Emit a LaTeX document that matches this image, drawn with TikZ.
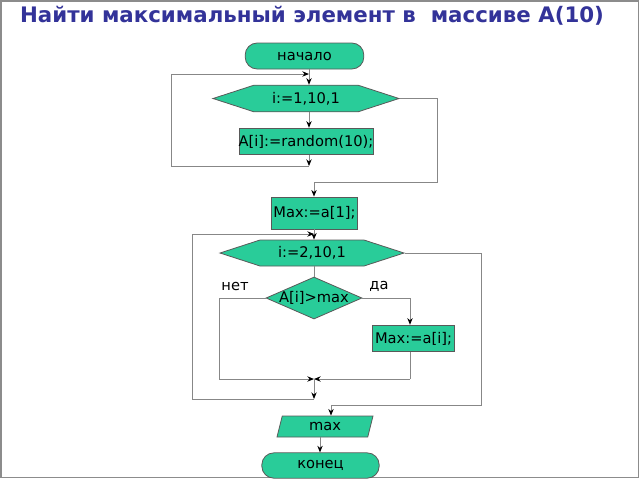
\documentclass[tikz,border=0pt]{standalone}
\usepackage{fontspec}
\setmainfont{DejaVu Sans}
\usetikzlibrary{arrows.meta,shapes.geometric,shapes.symbols}

\definecolor{boxgreen}{RGB}{41,204,153}
\definecolor{titleblue}{RGB}{51,51,153}
\definecolor{wire}{RGB}{135,135,135}

\tikzset{
  every node/.style={font=\fontsize{11}{13}\selectfont},
  shapebase/.style={draw=black!65, fill=boxgreen, inner sep=0pt, line width=0.6pt},
  terminal/.style={shapebase, rectangle, rounded corners=9pt},
  procbox/.style={shapebase, rectangle},
  loopbox/.style={shapebase, signal, signal to=west and east, signal pointer angle=36},
  condbox/.style={shapebase, diamond},
  iobox/.style={shapebase, trapezium, trapezium left angle=58, trapezium right angle=122, trapezium stretches body},
  wireline/.style={draw=wire, line width=0.75pt},
  arr/.style={wireline, -{Stealth[length=5pt,width=4pt,black]}},
}

\begin{document}
\begin{tikzpicture}[x=0.75pt,y=0.75pt,yscale=-1,xscale=1]
\useasboundingbox (0,0) rectangle (640,480);
% frame
\draw [draw=black!45, line width=0.9pt] (1,1) rectangle (638.5,477.5);

% Text Node: title
\node [text=titleblue, font=\fontsize{16}{19}\selectfont\bfseries] (title) at (312,16) {Найти максимальный элемент в \ массиве А(10)};

% first loop
\node [terminal, minimum width=89pt, minimum height=19.5pt] (start) at (304.5,56) {начало};
\node [loopbox, minimum width=139.5pt, minimum height=20pt] (loopA) at (306,98.5) {i:=1,10,1};
\node [procbox, minimum width=100.5pt, minimum height=20pt] (fillA) at (306,141.5) {\makebox[0pt]{A[i]:=random(10);}};

\coordinate (colA) at (309,0);
\coordinate (retA) at (309,166);
\draw [arr] (start.south -| colA) -- (loopA.north -| colA);
\draw [arr] (loopA.south -| colA) -- (fillA.north -| colA);
\draw [arr] (fillA.south -| colA) -- (retA);
\draw [wireline] (retA) -- (171,166) -- (171,74);
\draw [arr] (171,74) -- (309,74);

% Max:=a[1]
\node [procbox, minimum width=64pt, minimum height=24pt] (maxA) at (314.5,213) {Max:=a[1];};
\draw [wireline] (loopA.east) -- (437,98.5) -- (437,182) -- (314,182);
\draw [arr] (314,182) -- (maxA.north -| 314,0);

% second loop
\node [loopbox, minimum width=138pt, minimum height=19.5pt] (loopB) at (312,253) {i:=2,10,1};
\node [condbox, minimum width=72pt, minimum height=31.5pt] (cond) at (314,298) {\makebox[0pt]{A[i]>max}};
\node [procbox, minimum width=61pt, minimum height=20pt] (setB) at (413.5,338.5) {Max:=a[i];};

\coordinate (mrg) at (314,379);
\coordinate (retB) at (314,399);
\draw [arr] (maxA.south -| 314,0) -- (loopB.north -| 314,0);
\draw [wireline] (loopB.south -| 314,0) -- (cond.north);
\draw [wireline] (cond.west) -- (219,298) -- (219,379);
\draw [arr] (219,379) -- (mrg);
\draw [wireline] (cond.east) -- (410,298);
\draw [arr] (410,298) -- (setB.north -| 410,0);
\draw [wireline] (setB.south -| 410,0) -- (410,379);
\draw [arr] (410,379) -- (mrg);
\draw [arr] (mrg) -- (retB);
\draw [wireline] (retB) -- (192,399) -- (192,234);
\draw [arr] (192,234) -- (314,234);

% Text Node
\node (no) at (235,286) {нет};
% Text Node
\node (yes) at (379,286) {да};

% output and end
\node [iobox, minimum width=72pt, minimum height=15.75pt] (outp) at (325,426.5) {max};
\node [terminal, minimum width=88pt, minimum height=19pt] (stop) at (320.5,465.5) {конец};
\draw [wireline] (loopB.east) -- (481,253) -- (481,405) -- (331,405);
\draw [arr] (331,405) -- (outp.north -| 331,0);
\draw [arr] (outp.south -| 320,0) -- (stop.north -| 320,0);

\end{tikzpicture}
\end{document}
